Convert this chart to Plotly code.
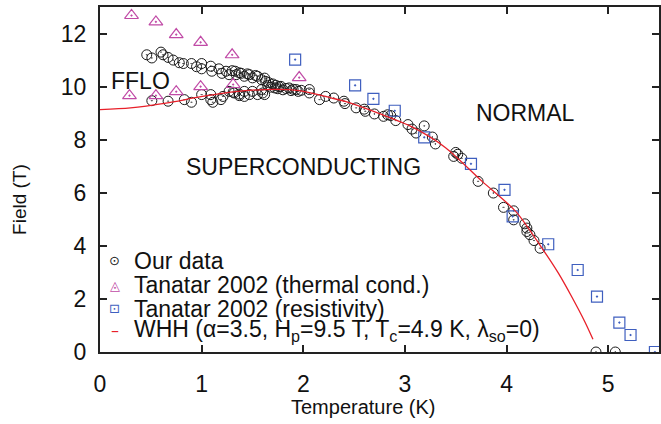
import plotly.graph_objects as go

# ---------------- data ----------------
our_T = [0.46, 0.51, 0.60, 0.62, 0.67, 0.72, 0.78, 0.82, 0.90, 0.95, 1.00, 1.00, 1.09, 1.10,
         1.17, 1.20, 1.24, 1.27, 1.30, 1.33, 1.34, 1.37, 1.39, 1.42, 1.45, 1.47, 1.50, 1.53,
         1.55, 1.59, 1.62, 1.63, 1.66, 1.70, 1.73, 1.76,
         1.65, 1.68, 1.72, 1.75, 1.78, 1.80, 1.83, 1.86, 1.88, 1.90, 1.93, 1.95, 1.98, 2.06, 2.06,
         0.51, 0.67, 0.83, 0.90, 1.00, 1.09, 1.09, 1.11, 1.19, 1.21, 1.27, 1.31, 1.32, 1.37, 1.37,
         1.42, 1.42, 1.47, 1.50, 1.55, 1.59, 1.60, 1.62,
         2.16, 2.22, 2.30, 2.40, 2.41, 2.52, 2.60, 2.61, 2.70, 2.79, 2.83, 2.86, 2.91, 3.03, 3.07,
         3.11, 3.19, 3.27, 3.30, 3.48, 3.50, 3.52, 3.56, 3.72, 3.87, 3.97, 4.07, 4.07, 4.18, 4.20,
         4.20, 4.23, 4.27, 4.33, 4.88, 5.07]
our_H = [11.20, 11.08, 11.30, 11.20, 11.10, 11.00, 10.90, 10.87, 10.87, 10.75, 10.87, 10.67, 10.77, 10.58,
         10.67, 10.50, 10.58, 10.45, 10.60, 10.58, 10.45, 10.52, 10.50, 10.39, 10.48, 10.45, 10.33, 10.42,
         10.39, 10.26, 10.32, 10.20, 10.15, 10.10, 10.05, 10.00,
         10.05, 9.98, 9.95, 9.92, 10.01, 9.88, 9.93, 9.95, 9.85, 9.90, 9.89, 9.82, 9.86, 9.89, 9.76,
         9.47, 9.45, 9.51, 9.41, 9.70, 9.70, 9.51, 9.41, 9.51, 9.63, 9.82, 9.79, 9.76, 9.72, 9.66,
         9.63, 9.82, 9.70, 9.82, 9.70, 9.89, 9.76, 9.70,
         9.51, 9.63, 9.57, 9.45, 9.36, 9.20, 9.15, 9.07, 8.97, 8.88, 8.94, 8.91, 8.72, 8.57, 8.40,
         8.25, 8.52, 8.10, 7.84, 7.37, 7.52, 7.45, 7.30, 6.43, 5.99, 5.45, 5.32, 4.98, 4.83, 4.67,
         4.54, 4.42, 4.20, 3.91, 0.0, 0.0]

therm_T = [0.31, 0.55, 0.75, 0.99, 1.30, 1.96, 0.29, 0.55, 0.75, 0.99, 1.31]
therm_H = [12.68, 12.44, 11.96, 11.67, 11.20, 10.34, 9.66, 9.66, 9.81, 10.00, 10.08]

res_T = [1.92, 2.51, 2.69, 2.90, 3.19, 3.65, 3.98, 4.06, 4.41, 4.70, 4.89, 5.11, 5.22, 5.46]
res_H = [11.02, 10.05, 9.54, 9.09, 8.09, 7.09, 6.11, 5.11, 4.06, 3.09, 2.09, 1.11, 0.64, 0.0]

whh_T = [0.0, 0.30, 0.65, 0.98, 1.31, 1.63, 1.96, 2.28, 2.42, 2.75, 3.07, 3.40, 3.76, 4.09,
         4.36, 4.51, 4.64, 4.77, 4.85]
whh_H = [9.13, 9.20, 9.38, 9.61, 9.80, 9.89, 9.85, 9.57, 9.43, 8.98, 8.48, 7.70, 6.43, 5.30,
         3.85, 2.97, 2.09, 1.14, 0.48]

legend_labels = ["Our data", "Tanatar 2002 (thermal cond.)", "Tanatar 2002 (resistivity)",
                 "WHH (\u03b1=3.5, H<sub>p</sub>=9.5 T, T<sub>c</sub>=4.9 K, \u03bb<sub>so</sub>=0)"]
legend_symbols = ["\u2299", "\u25ec", "\u22a1", "\u2013"]

x_ticks = [0, 1, 2, 3, 4, 5]
y_ticks = [0, 2, 4, 6, 8, 10, 12]

x_title = "Temperature (K)"
y_title = "Field (T)"

# ---------------- style ----------------
FONT = "Liberation Sans, Arial, Helvetica, sans-serif"
C_OUR = "#1a1a1a"
C_TH = "#c04aa6"
C_RES = "#3f5fbf"
C_WHH = "#e8202a"
AX = "#222222"
TXT = "#111111"
SYM_SIZES = [13, 13, 13, 16]

fig = go.Figure()
fig.add_trace(go.Scatter(x=our_T, y=our_H, mode="markers", name=legend_labels[0],
                         marker=dict(symbol="circle-open-dot", size=10, color=C_OUR,
                                     line=dict(width=1, color=C_OUR)), showlegend=False))
fig.add_trace(go.Scatter(x=therm_T, y=therm_H, mode="markers", name=legend_labels[1],
                         marker=dict(symbol="triangle-up-open-dot", size=12, color=C_TH,
                                     line=dict(width=1.2, color=C_TH)), showlegend=False))
fig.add_trace(go.Scatter(x=res_T, y=res_H, mode="markers", name=legend_labels[2],
                         marker=dict(symbol="square-open-dot", size=11, color=C_RES,
                                     line=dict(width=1.2, color=C_RES)), showlegend=False))
fig.add_trace(go.Scatter(x=whh_T, y=whh_H, mode="lines", name=legend_labels[3],
                         line=dict(color=C_WHH, width=1.3, shape="spline", smoothing=0.8),
                         showlegend=False))

# manual compact legend
leg_y = [0.264, 0.194, 0.126, 0.062]
leg_col = [C_OUR, C_TH, C_RES, C_WHH]
for lab, sym, yy, col, ss in zip(legend_labels, legend_symbols, leg_y, leg_col, SYM_SIZES):
    fig.add_annotation(x=0.0267, y=yy, xref="paper", yref="paper", text=sym, showarrow=False,
                       xanchor="center", yanchor="middle",
                       font=dict(family="DejaVu Sans", size=ss, color=col))
    fig.add_annotation(x=0.058, y=yy, xref="paper", yref="paper", text=lab, showarrow=False,
                       xanchor="left", yanchor="middle",
                       font=dict(family=FONT, size=23, color=TXT))

# region labels
for txt, tx, ty in [("FFLO", 0.40, 10.2), ("NORMAL", 4.19, 9.02), ("SUPERCONDUCTING", 2.005, 6.98)]:
    fig.add_annotation(x=tx, y=ty, text=txt, showarrow=False, xanchor="center", yanchor="middle",
                       font=dict(family=FONT, size=23, color=TXT))

# axis titles (placed as in the reference)
fig.add_annotation(x=0.4706, y=-0.158, xref="paper", yref="paper", text=x_title, showarrow=False,
                   xanchor="center", yanchor="middle", font=dict(family=FONT, size=20, color=TXT))
fig.add_annotation(x=-0.143, y=0.441, xref="paper", yref="paper", text=y_title, showarrow=False,
                   textangle=-90, xanchor="center", yanchor="middle",
                   font=dict(family=FONT, size=19, color=TXT))

axis_common = dict(showline=True, linewidth=2, linecolor=AX, mirror="allticks", ticks="inside",
                   ticklen=7, tickwidth=1.5, tickcolor=AX, showgrid=False, zeroline=False,
                   tickfont=dict(family=FONT, size=23, color=TXT))
fig.update_xaxes(range=[0, 5.5], tickvals=x_ticks, ticklabelstandoff=10, **axis_common)
fig.update_yaxes(range=[0, 13], tickvals=y_ticks, ticklabelstandoff=7, **axis_common)

fig.update_layout(width=661, height=424, margin=dict(l=100, r=0, t=7, b=72),
                  paper_bgcolor="white", plot_bgcolor="white", showlegend=False,
                  font=dict(family=FONT))

fig.write_html("out.html", config={"displayModeBar": False},
               post_script="document.body.style.margin='0';")
